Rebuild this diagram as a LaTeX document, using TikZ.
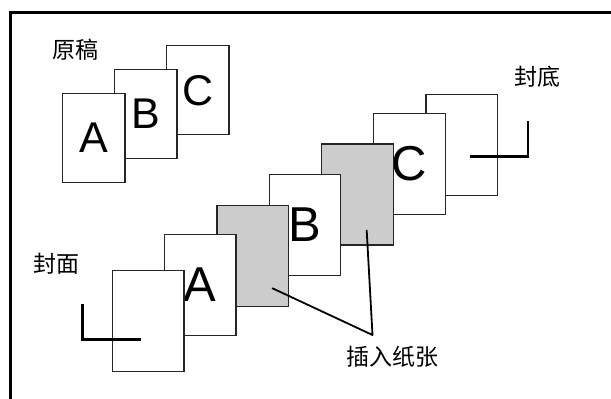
\documentclass[tikz,border=0pt]{standalone}
\usepackage{fontspec}
\setmainfont{Liberation Sans}
\newfontfamily\cjk{Noto Sans CJK SC}
\definecolor{insertgray}{HTML}{CCCCCC}
\begin{document}
\begin{tikzpicture}[x=1pt,y=-1pt,
  pagebig/.style={draw=black!85,line width=1.3pt,fill=white,rectangle,inner sep=0pt,
    minimum width=71.5pt,minimum height=101pt,font=\fontsize{49}{49}\selectfont},
  pagesmall/.style={draw=black!85,line width=1.3pt,fill=white,rectangle,inner sep=0pt,
    minimum width=62.6pt,minimum height=89pt,font=\fontsize{43}{43}\selectfont},
  insertpage/.style={pagebig,fill=insertgray},
  cjklabel/.style={font=\cjk\fontsize{23}{23}\selectfont,inner sep=0pt},
  cornermark/.style={line width=2.5pt},
  callout/.style={line width=1.8pt,line cap=round,line join=round}]
\useasboundingbox (0,0) rectangle (611,399);
\fill[white] (0,0) rectangle (611,399);
% frame (top and left edges visible)
\draw[line width=3pt] (10.5,399) -- (10.5,12.5) -- (611,12.5);
% original stack
\node[pagesmall] (oc) at (197.7,90.2) {C};
\node[pagesmall] (ob) at (145.8,114.2) {B};
\node[pagesmall] (oa) at (93.7,138.2) {A};
\node[cjklabel] (orig) at (75.5,50) {原稿};
% output stack
\node[pagebig] (back) at (461.8,144.7) {};
\node[pagebig] (pc) at (409.5,164) {C};
\node[insertpage] (g2) at (357.4,194.6) {};
\node[pagebig] (pb) at (305,225) {B};
\node[insertpage] (g1) at (252.8,255.7) {};
\node[pagebig] (pa) at (200.3,285) {A};
\node[pagebig] (front) at (148.2,320.7) {};
% corner marks
\draw[cornermark] (82.7,304.3) -- (82.7,339.5) -- (141,339.5);
\draw[cornermark] (470,156.3) -- (528,156.3) -- (528,121);
% labels
\node[cjklabel] (backlabel) at (537,76.3) {封底};
\node[cjklabel] (frontlabel) at (56,264) {封面};
\node[cjklabel] (inslabel) at (392,356.7) {插入纸张};
% callout
\coordinate (c1) at (272.5,288.3);
\coordinate (c2) at (366.7,230.5);
\coordinate (tip) at (372.5,335);
\draw[callout] (c1) -- (tip) -- (c2);
\end{tikzpicture}
\end{document}
